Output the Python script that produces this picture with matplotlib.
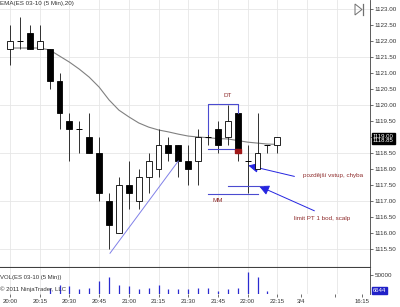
import matplotlib
matplotlib.use('Agg')
import matplotlib.pyplot as plt
import numpy as np
from matplotlib.patches import Polygon

plt.rcParams['font.family'] = ['Liberation Sans', 'DejaVu Sans']

# 5 min bars ES 03-10, 20:00 .. 22:15
opens = [1121.75, 1122.0, 1122.25, 1121.75, 1121.75, 1120.75, 1119.5, 1119.25,
         1119.0, 1118.5, 1117.0, 1116.0, 1117.5, 1117.0, 1117.75, 1118.0,
         1118.75, 1118.75, 1118.25, 1118.25, 1119.0, 1119.25, 1119.0, 1119.75,
         1118.25, 1118.0, 1118.75, 1118.75]
highs = [1122.5, 1122.75, 1122.5, 1122.5, 1121.75, 1121.0, 1119.75, 1119.5,
         1119.75, 1119.0, 1117.25, 1117.75, 1118.25, 1118.0, 1118.5, 1119.25,
         1119.0, 1118.75, 1118.75, 1119.25, 1119.25, 1119.5, 1120.0, 1119.75,
         1118.75, 1119.75, 1118.75, 1119.0]
lows = [1121.25, 1121.75, 1121.75, 1121.75, 1120.5, 1119.25, 1118.25, 1118.5,
        1118.5, 1117.0, 1115.5, 1116.0, 1116.75, 1116.75, 1117.25, 1117.75,
        1118.25, 1117.75, 1117.5, 1117.5, 1118.75, 1118.5, 1118.75, 1118.25,
        1117.25, 1118.0, 1118.5, 1118.5]
closes = [1122.0, 1122.0, 1121.75, 1122.0, 1120.75, 1119.75, 1119.25, 1119.25,
          1118.5, 1117.25, 1116.25, 1117.5, 1117.25, 1117.75, 1118.25, 1118.75,
          1118.5, 1118.25, 1118.0, 1119.0, 1119.0, 1118.75, 1119.5, 1118.5,
          1118.25, 1118.5, 1118.75, 1119.0]
# EMA(20)
ema = [1121.78, 1121.78, 1121.78, 1121.78, 1121.72, 1121.53, 1121.34, 1121.12,
       1120.87, 1120.56, 1120.16, 1119.84, 1119.63, 1119.44, 1119.31, 1119.22,
       1119.16, 1119.09, 1119.03, 1119.0, 1118.98, 1118.95, 1118.94, 1118.89,
       1118.84, 1118.81, 1118.78, 1118.77]
# volume, bars 4..27
vol_start = 4
volumes = [17000, 24000, 22000, 13000, 15000, 35000, 46000, 24000, 20000,
           13000, 15000, 24000, 13000, 13000, 13000, 15000, 17000, 9000,
           13000, 15000, 59000, 45000, 6644]

time_ticks = [0, 3, 6, 9, 12, 15, 18, 21, 24, 27, 29.4, 32.8, 35.6]
time_labels = ['20:00', '20:15', '20:30', '20:45', '21:00', '21:15', '21:30',
               '21:45', '22:00', '22:15', '3/4', '', '16:15']

fig = plt.figure(figsize=(4, 3.07), dpi=100)
ax = fig.add_axes([0, 40 / 307, 370 / 400, 267 / 307])
axv = fig.add_axes([0, 13 / 307, 370 / 400, 26 / 307], sharex=ax)
vmax = 50000 * 26 / 19

idx = np.arange(len(opens))
o = np.array(opens)
c = np.array(closes)

# grid
for p in np.arange(1115.5, 1123.1, 1.5):
    ax.axhline(p, color='#e6e6e6', lw=0.6, zorder=0)
for t in range(0, 34, 3):
    ax.axvline(t, color='#e6e6e6', lw=0.6, zorder=0)
    axv.axvline(t, color='#e6e6e6', lw=0.6, zorder=0)

ax.plot(idx, ema, color='#808080', lw=0.8, zorder=2)

ax.vlines(idx, lows, highs, color='#303030', lw=0.7, zorder=3)
up = c > o
down = c < o
ax.bar(idx[up], (c - o)[up], bottom=o[up], width=0.6, color='white',
       edgecolor='black', lw=0.6, zorder=4)
ax.bar(idx[down], (o - c)[down], bottom=c[down], width=0.6, color='black',
       edgecolor='black', lw=0.6, zorder=4)
doji = c == o
ax.hlines(c[doji], idx[doji] - 0.3, idx[doji] + 0.3, color='black', lw=0.7, zorder=4)

# drawings
blue = '#4b4bd0'
ax.plot([10.1, 17], [1115.37, 1118.25], color='#8080e8', lw=0.7, zorder=5)
ax.plot([20, 20, 23, 23], [1119.1, 1120.02, 1120.02, 1119.75], color=blue, lw=0.8, zorder=5)
ax.plot([20, 23], [1118.63, 1118.63], color=blue, lw=0.8, zorder=5)
ax.add_patch(plt.Rectangle((22.7, 1118.5), 0.6, 0.14, color='#a01818', zorder=6))
ax.plot([22, 25.6], [1117.46, 1117.46], color=blue, lw=0.8, zorder=5)
ax.plot([20, 25], [1117.21, 1117.21], color=blue, lw=0.8, zorder=5)
red = '#8e2b2b'
ax.text(22, 1120.3, 'DT', color=red, fontsize=4.5, ha='center', va='center')
ax.text(21, 1117.02, 'MM', color=red, fontsize=4.5, ha='center', va='center')
ax.annotate('', xy=(23.8, 1118.13), xytext=(29, 1117.75),
            arrowprops=dict(arrowstyle='-|>,head_length=0.6,head_width=0.3',
                            color='#2525e0', lw=0.7, mutation_scale=10))
ax.annotate('', xy=(24.9, 1117.5), xytext=(31, 1116.66),
            arrowprops=dict(arrowstyle='-|>,head_length=0.6,head_width=0.3',
                            color='#2525e0', lw=0.7, mutation_scale=10))
ax.text(29.6, 1117.81, 'pozdější vstup, chyba', color=red, fontsize=4.5, va='center')
ax.text(28.7, 1116.47, 'limit PT 1 bod, scalp', color=red, fontsize=4.5, va='center')

ax.text(0, 0.995, 'EMA(ES 03-10 (5 Min),20)', transform=ax.transAxes, fontsize=4.5,
        color='#333333', va='top')

# axes setup
ax.set_xlim(-1.01, 36.36)
ax.set_ylim(1114.94, 1123.28)
ax.yaxis.tick_right()
yt = np.arange(1115.5, 1123.01, 0.5)
ax.set_yticks(yt)
ax.set_yticklabels(['' if v == 1119.0 else '%.2f' % v for v in yt])
ax.tick_params(axis='y', direction='out', length=2.5, width=0.5, pad=1,
               labelsize=4.5, colors='#333333')
ax.tick_params(axis='x', bottom=False, labelbottom=False)
for s in ['top', 'left']:
    ax.spines[s].set_visible(False)
ax.spines['right'].set_color('#404040')
ax.spines['bottom'].set_color('#404040')
ax.spines['right'].set_linewidth(0.6)
ax.spines['bottom'].set_linewidth(0.8)

ax.text(1.008, (1118.96 - 1114.94) / (1123.28 - 1114.94), '1119.00\n1118.85',
        transform=ax.transAxes, fontsize=4.3, color='white', va='center', ha='left',
        linespacing=0.85, zorder=10, clip_on=False,
        bbox=dict(boxstyle='square,pad=0.15', fc='black', ec='black'))

vx = np.arange(vol_start, vol_start + len(volumes))
axv.vlines(vx, 0, volumes, color='#2b2bd0', lw=0.9)
axv.set_ylim(0, vmax)
axv.yaxis.tick_right()
axv.set_yticks([50000])
axv.set_yticklabels(['50000'])
axv.tick_params(axis='y', direction='out', length=2.5, width=0.5, pad=1,
                labelsize=4.5, colors='#333333')
axv.set_xticks(time_ticks)
axv.set_xticklabels(time_labels)
axv.tick_params(axis='x', direction='out', length=2, width=0.5, pad=1.5,
                labelsize=4.3, colors='#333333')
for s in ['top', 'left', 'bottom']:
    axv.spines[s].set_visible(False)
axv.spines['right'].set_color('#404040')
axv.spines['right'].set_linewidth(0.6)
axv.text(0, 0.62, 'VOL(ES 03-10 (5 Min))', transform=axv.transAxes, fontsize=4.3,
         color='#333333', va='center')
axv.text(0, 0.19, '© 2011 NinjaTrader, LLC', transform=axv.transAxes, fontsize=4.3,
         color='#333333', va='center')
axv.text(1.008, 0.12, '6644', transform=axv.transAxes, fontsize=4.3,
         color='white', va='center', ha='left', clip_on=False,
         bbox=dict(boxstyle='square,pad=0.15', fc='#2020c8', ec='#2020c8'))

# scroll icon
fig.add_artist(Polygon([[355 / 400, 1 - 4 / 307], [355 / 400, 1 - 15 / 307],
                        [362 / 400, 1 - 9.5 / 307]], closed=True, fill=False,
                       ec='#707070', lw=0.7, transform=fig.transFigure))
fig.add_artist(plt.Line2D([363 / 400, 363 / 400], [1 - 4 / 307, 1 - 15 / 307],
                          color='#707070', lw=0.9, transform=fig.transFigure))

fig.savefig('out.png', dpi=100)
